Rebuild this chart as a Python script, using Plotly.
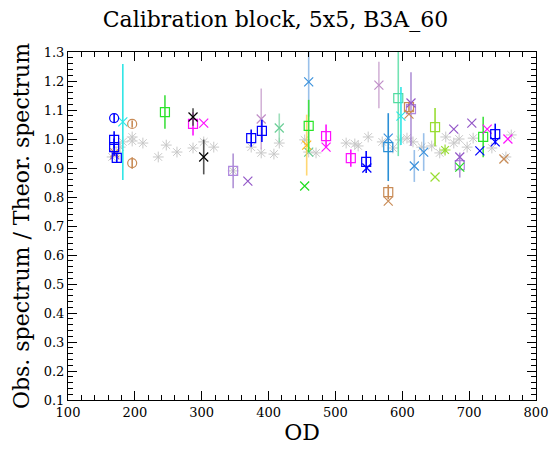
import plotly.graph_objects as go

# ---- data ----
gray_ast_od = [166, 172, 178, 182, 196, 196, 212, 235, 247, 263, 287, 303, 318, 347,
               374, 389, 408, 416, 454, 460, 471, 516, 529, 534, 549, 570, 586, 597,
               607, 616, 629, 644, 656, 665, 677, 685, 697, 706, 734, 755, 763]
gray_ast_ratio = [0.938, 0.955, 0.972, 0.990, 1.007, 0.993, 0.986, 0.938, 0.979, 0.955,
                  0.969, 0.990, 0.972, 0.890, 0.972, 0.952, 0.948, 0.986, 0.997, 0.955,
                  0.952, 0.986, 0.983, 0.976, 1.007, 0.990, 0.969, 0.997, 1.003, 0.990,
                  0.972, 0.976, 0.952, 1.007, 0.986, 1.000, 0.972, 1.003, 0.969, 0.938,
                  1.014]

blue_sq_od = [169, 169, 173, 374, 390, 546, 739]
blue_sq_ratio = [0.997, 0.972, 0.935, 1.003, 1.028, 0.921, 1.017]
blue_sq_err = [0.03, 0.03, 0.015, 0.03, 0.038, 0.038, 0.036]
blue_x_od = [547, 716, 739]
blue_x_ratio = [0.900, 0.959, 0.990]
blue_circ_od = [169]
blue_circ_ratio = [1.072]
blue_circ_err = [0.015]

black_x_od = [287, 303]
black_x_ratio = [1.076, 0.938]
black_x_err = [0.03, 0.06]

tan_circ_od = [196, 196]
tan_circ_ratio = [1.052, 0.917]
tan_circ_err = [0.012, 0.02]
tan_sq_od = [579, 610]
tan_sq_ratio = [0.817, 1.110]
tan_sq_err = [0.025, 0.015]
tan_x_od = [170, 579, 610, 752]
tan_x_ratio = [0.952, 0.786, 1.086, 0.931]

green_sq_od = [245, 460, 721]
green_sq_ratio = [1.093, 1.045, 1.007]
green_sq_err = [0.058, 0.09, 0.07]
green_x_od = [454, 686]
green_x_ratio = [0.838, 0.903]

magenta_sq_od = [287, 486, 523]
magenta_sq_ratio = [1.052, 1.010, 0.934]
magenta_sq_err = [0.04, 0.04, 0.03]
magenta_x_od = [303, 486, 727, 758]
magenta_x_ratio = [1.055, 0.972, 1.034, 1.000]

cyan_x_od = [182, 598]
cyan_x_ratio = [1.059, 1.079]
cyan_x_err = [0.2, 0.1]

aqua_sq_od = [594]
aqua_sq_ratio = [1.141]
aqua_sq_err = [0.2]

steel_x_od = [460, 579, 618, 632]
steel_x_ratio = [1.197, 1.003, 0.907, 0.955]
steel_x_err = [0.12, 0.0, 0.055, 0.065]
steel_sq_od = [579]
steel_sq_ratio = [0.972]
steel_sq_err = [0.117]

mint_x_od = [416, 460]
mint_x_ratio = [1.038, 0.955]
mint_x_err = [0.05, 0.0]

gold_x_od = [457]
gold_x_ratio = [0.979]
gold_x_err = [0.105]

lav_sq_od = [347, 613, 686]
lav_sq_ratio = [0.890, 1.103, 0.910]
lav_sq_err = [0.06, 0.127, 0.043]

purple_x_od = [170, 369, 613, 677, 686, 704]
purple_x_ratio = [0.945, 0.855, 1.124, 1.034, 0.938, 1.055]

pink_x_od = [389, 565]
pink_x_ratio = [1.069, 1.186]
pink_x_err = [0.105, 0.08]

ygreen_sq_od = [649]
ygreen_sq_ratio = [1.041]
ygreen_sq_err = [0.066]
ygreen_x_od = [649]
ygreen_x_ratio = [0.869]
ygreen_ast_od = [664]
ygreen_ast_ratio = [0.962]

fig = go.Figure()


def add(od, ratio, color, symbol, size, err=None, err_color=None, lw=1.2):
    kw = {}
    if err is not None:
        kw["error_y"] = dict(type="data", array=err, symmetric=True, width=0,
                             thickness=1.6, color=err_color or color)
    fig.add_trace(go.Scatter(
        x=od, y=ratio, mode="markers",
        marker=dict(symbol=symbol, size=size, color=color,
                    line=dict(color=color, width=lw)),
        **kw))


add(gray_ast_od, gray_ast_ratio, "#c8c8c8", "asterisk-open", 9, lw=1)
add(lav_sq_od, lav_sq_ratio, "#b088e0", "square-open", 9, lav_sq_err, "rgba(150,110,200,0.75)")
add(pink_x_od, pink_x_ratio, "#c08ec8", "x-thin-open", 9, pink_x_err, "rgba(200,160,205,0.8)")
add(steel_sq_od, steel_sq_ratio, "#2a8fd6", "square-open", 9, steel_sq_err, "#2a8fd6")
add(steel_x_od, steel_x_ratio, "#3c92dc", "x-thin-open", 9, steel_x_err, "rgba(110,165,225,0.7)")
add(aqua_sq_od, aqua_sq_ratio, "#50dca0", "square-open", 9, aqua_sq_err, "rgba(80,220,160,0.8)")
add(cyan_x_od, cyan_x_ratio, "#30e6e6", "x-thin-open", 9, cyan_x_err, "#30e6e6")
add(mint_x_od, mint_x_ratio, "#6ccf98", "x-thin-open", 9, mint_x_err, "rgba(120,210,160,0.7)")
add(gold_x_od, gold_x_ratio, "#ffb81c", "x-thin-open", 9, gold_x_err, "rgba(255,205,80,0.8)")
add(green_sq_od, green_sq_ratio, "#28e628", "square-open", 9, green_sq_err, "#40e040")
add(green_x_od, green_x_ratio, "#22dd22", "x-thin-open", 9)
add(ygreen_sq_od, ygreen_sq_ratio, "#99dd33", "square-open", 9, ygreen_sq_err, "#99dd33")
add(ygreen_x_od, ygreen_x_ratio, "#99dd33", "x-thin-open", 9)
add(ygreen_ast_od, ygreen_ast_ratio, "#99dd33", "asterisk-open", 9)
add(tan_circ_od, tan_circ_ratio, "#c98c57", "circle-open", 9, tan_circ_err, "#c98c57")
add(tan_sq_od, tan_sq_ratio, "#c98c57", "square-open", 9, tan_sq_err, "#c98c57")
add(tan_x_od, tan_x_ratio, "#c98c57", "x-thin-open", 9)
add(purple_x_od, purple_x_ratio, "#9458c8", "x-thin-open", 9)
add(magenta_sq_od, magenta_sq_ratio, "#ff10ff", "square-open", 9, magenta_sq_err, "#ff10ff")
add(magenta_x_od, magenta_x_ratio, "#ff10ff", "x-thin-open", 9)
add(black_x_od, black_x_ratio, "#000000", "x-thin-open", 9, black_x_err, "#555555")
add(blue_sq_od, blue_sq_ratio, "#0000ff", "square-open", 9, blue_sq_err, "#0000ff")
add(blue_x_od, blue_x_ratio, "#0000ff", "x-thin-open", 9)
add(blue_circ_od, blue_circ_ratio, "#0000ff", "circle-open", 9, blue_circ_err, "#0000ff")

font_family = "DejaVu Serif"
axis_common = dict(showline=True, linecolor="black", linewidth=1, mirror="allticks",
                   ticks="inside", ticklen=9, tickcolor="black", tickwidth=1,
                   showgrid=False, zeroline=False, automargin=False,
                   tickfont=dict(family=font_family, size=13, color="black"))

fig.update_layout(
    width=551, height=453,
    margin=dict(l=68, r=15, t=52, b=53),
    plot_bgcolor="white", paper_bgcolor="white",
    showlegend=False,
    font=dict(family=font_family, color="black"),
    title=dict(text="Calibration block, 5x5, B3A_60", x=0.5, xanchor="center",
               y=1 - 19 / 453, yanchor="middle", yref="container",
               font=dict(family=font_family, size=22, color="black")),
)
fig.update_xaxes(range=[100, 800], dtick=100, tick0=100,
                 minor=dict(ticks="inside", dtick=20, ticklen=5, tickcolor="black"),
                 title=dict(text="OD", standoff=6,
                            font=dict(family=font_family, size=22, color="black")),
                 **axis_common)
fig.update_yaxes(range=[0.1, 1.3], dtick=0.1, tick0=0.1, tickformat=".1f",
                 minor=dict(ticks="inside", dtick=0.02, ticklen=5, tickcolor="black"),
                 title=dict(text="Obs. spectrum / Theor. spectrum", standoff=8,
                            font=dict(family=font_family, size=22, color="black")),
                 **axis_common)

fig.write_html("out.html")
